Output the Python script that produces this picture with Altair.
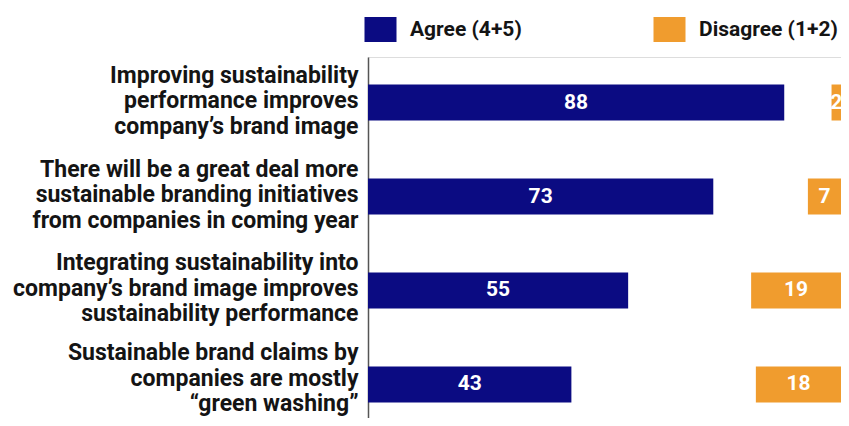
import altair as alt
import pandas as pd

statements = [
    "Improving sustainability|performance improves|company\u2019s brand image",
    "There will be a great deal more|sustainable branding initiatives|from companies in coming year",
    "Integrating sustainability into|company\u2019s brand image improves|sustainability performance",
    "Sustainable brand claims by|companies are mostly|\u201cgreen washing\u201d",
]
agree = [88, 73, 55, 43]
disagree = [2, 7, 19, 18]
series = ["Agree (4+5)", "Disagree (1+2)"]
colors = ["#0b0b82", "#f09c2e"]

FONT = "Roboto"

rows = []
for s, a, d in zip(statements, agree, disagree):
    rows.append({"statement": s, "series": series[0], "value": a})
    rows.append({"statement": s, "series": series[1], "value": d})
df = pd.DataFrame(rows)

base = alt.Chart(df).transform_calculate(
    start=f"datum.series == '{series[0]}' ? 0 : 100 - datum.value",
    end=f"datum.series == '{series[0]}' ? datum.value : 100",
).transform_calculate(
    mid="(datum.start + datum.end) / 2"
)

yscale = alt.Scale(paddingInner=0.617, paddingOuter=0.2926, range=[0, 373])

yenc = alt.Y(
    "statement:N",
    sort=statements,
    scale=yscale,
    axis=alt.Axis(
        title=None,
        labelExpr="split(datum.label, '|')",
        labelFont=FONT,
        labelFontSize=23,
        labelFontWeight="bold",
        labelColor="#141414",
        labelLineHeight=25.5,
        labelOffset={
            "condition": {"test": f"datum.value == '{statements[3]}'", "value": -31},
            "value": -27,
        },
        labelPadding=10,
        labelLimit=0,
        ticks=False,
        grid=False,
        domainColor="#555555",
        domainWidth=1.5,
    ),
)

bars = base.mark_bar(cornerRadius=0).encode(
    x=alt.X("start:Q", scale=alt.Scale(domain=[0, 100], nice=False), axis=None),
    x2="end:Q",
    y=yenc,
    color=alt.Color(
        "series:N",
        scale=alt.Scale(domain=series, range=colors),
        legend=alt.Legend(
            orient="none",
            legendX=0,
            legendY=-40,
            direction="horizontal",
            title=None,
            symbolType="M-1.28,-1L1.28,-1L1.28,1L-1.28,1Z",
            symbolSize=625,
            symbolStrokeWidth=0,
            symbolOpacity=1,
            labelFont=FONT,
            labelFontSize=21,
            labelFontWeight="bold",
            labelColor="#141414",
            labelOffset=17,
            labelLimit=0,
            columnPadding=131,
        ),
    ),
)

labels = base.mark_text(
    color="white", font=FONT, fontSize=21, fontWeight="bold",
    align="center", baseline="middle",
).encode(
    x=alt.X("mid:Q", scale=alt.Scale(domain=[0, 100], nice=False), axis=None),
    y=alt.Y("statement:N", sort=statements),
    text="value:Q",
)

chart = alt.layer(bars, labels).properties(
    width=473,
    height=361,
    autosize=alt.AutoSizeParams(type="none"),
    padding={"left": 360, "top": 49, "right": 0, "bottom": 0},
).configure_view(strokeWidth=0, stroke="transparent").configure(background="white")

chart.save("out.html", embed_options={"renderer": "svg", "actions": False})
